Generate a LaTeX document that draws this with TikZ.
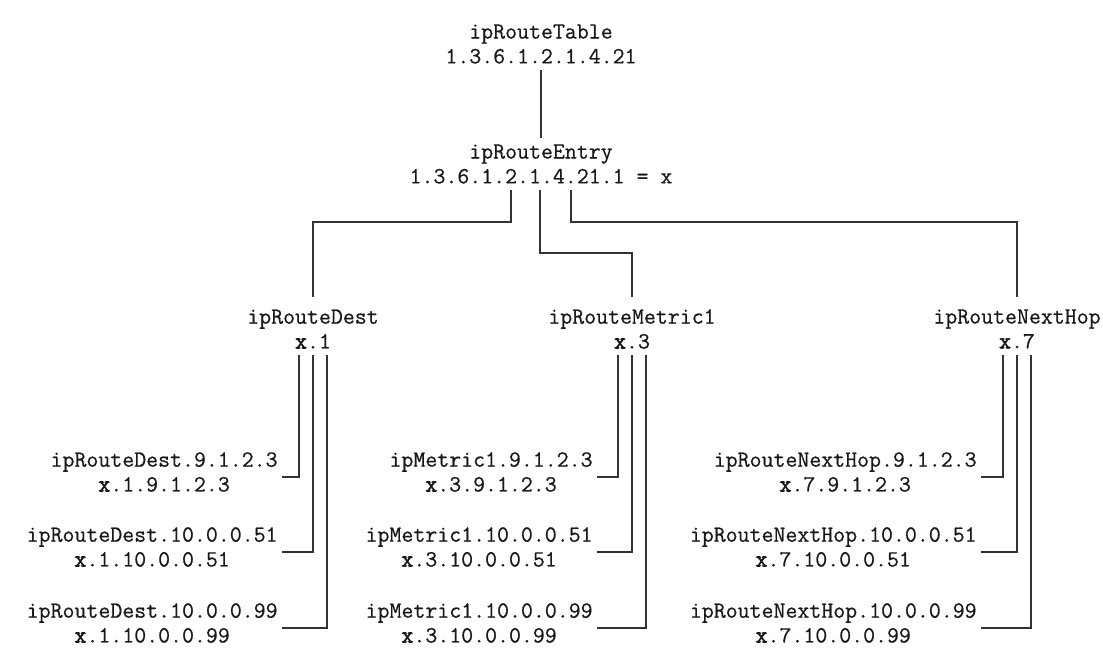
\documentclass[tikz,border=0pt]{standalone}
\usepackage{fontspec}
\newfontfamily\oidfont{Latin Modern Mono}[FakeBold=0.6]
\newfontfamily\oidbold{Latin Modern Mono}[FakeBold=2.4]
\newcommand{\xvar}{{\oidbold x}}

\begin{document}
\begin{tikzpicture}[
    x=0.5pt, y=-0.5pt,
    oid/.style={align=center, inner xsep=2pt, inner ysep=3pt,
                font=\oidfont\fontsize{11.6}{12.4}\selectfont, text=black!90},
    leaf/.style={oid, anchor=east},
    treeline/.style={draw=black!80, line width=0.8pt},
  ]
    \useasboundingbox (0,0) rectangle (1103,654);

    % Top: table and entry
    \node[oid] (table) at (541,44) {ipRouteTable\\1.3.6.1.2.1.4.21};
    \node[oid] (entry) at (541,164) {ipRouteEntry\\1.3.6.1.2.1.4.21.1 = x};
    \draw[treeline] (table) -- (entry);

    % Middle: the three columns
    \node[oid] (dest) at (313,329) {ipRouteDest\\\xvar.1};
    \node[oid] (metric) at (632,329) {ipRouteMetric1\\\xvar.3};
    \node[oid] (hop) at (1017,329) {ipRouteNextHop\\\xvar.7};

    \draw[treeline] ([xshift=-15pt]entry.south) -- ++(0,-16pt) -| ([yshift=3pt]dest.north);
    \draw[treeline] ([xshift=-0.5pt]entry.south) -- ++(0,-31.5pt) -| ([yshift=3pt]metric.north);
    \draw[treeline] ([xshift=15pt]entry.south) -- ++(0,-16pt) -| ([yshift=3pt]hop.north);

    % Bottom: instances per column
    \foreach \col/\oidname/\num/\lx in {dest/ipRouteDest/1/282, metric/ipMetric1/3/597, hop/ipRouteNextHop/7/981} {
      \foreach \sufx/\ly/\dx [count=\i] in {9.1.2.3/472/-7pt, 10.0.0.51/547/0pt, 10.0.0.99/623/7pt} {
        \node[leaf] (\col\i) at (\lx,\ly) {\oidname.\sufx\\\xvar.\num.\sufx};
        \draw[treeline] ([xshift=\dx]\col.south) |- ([yshift=-2.5pt]\col\i.east);
      }
    }
  \end{tikzpicture}
\end{document}
